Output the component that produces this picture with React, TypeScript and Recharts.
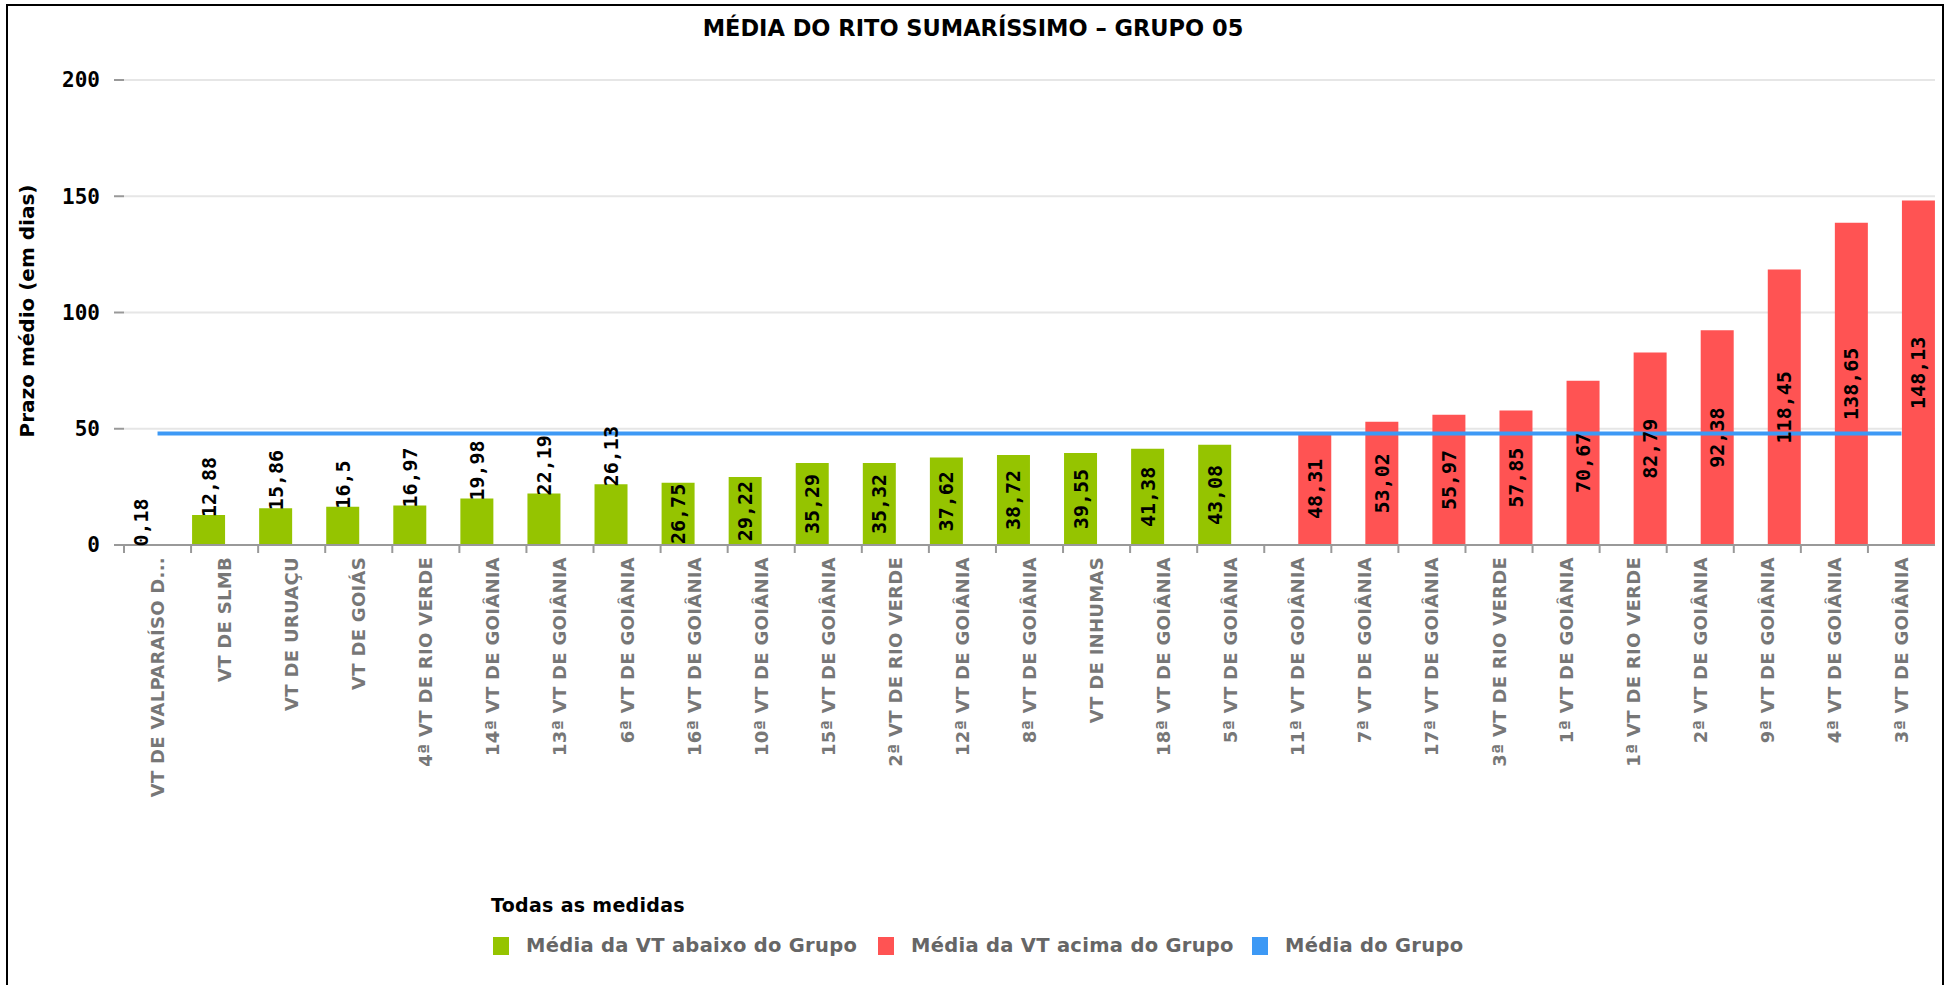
import { ComposedChart, Bar, Line, XAxis, YAxis, CartesianGrid, LabelList } from 'recharts';

const categories = [
  'VT DE VALPARAÍSO D...', 'VT DE SLMB', 'VT DE URUAÇU', 'VT DE GOIÁS', '4ª VT DE RIO VERDE',
  '14ª VT DE GOIÂNIA', '13ª VT DE GOIÂNIA', '6ª VT DE GOIÂNIA', '16ª VT DE GOIÂNIA', '10ª VT DE GOIÂNIA',
  '15ª VT DE GOIÂNIA', '2ª VT DE RIO VERDE', '12ª VT DE GOIÂNIA', '8ª VT DE GOIÂNIA', 'VT DE INHUMAS',
  '18ª VT DE GOIÂNIA', '5ª VT DE GOIÂNIA', '11ª VT DE GOIÂNIA', '7ª VT DE GOIÂNIA', '17ª VT DE GOIÂNIA',
  '3ª VT DE RIO VERDE', '1ª VT DE GOIÂNIA', '1ª VT DE RIO VERDE', '2ª VT DE GOIÂNIA', '9ª VT DE GOIÂNIA',
  '4ª VT DE GOIÂNIA', '3ª VT DE GOIÂNIA',
];

// below group average (first 17 courts)
const abaixo = [
  0.18, 12.88, 15.86, 16.5, 16.97, 19.98, 22.19, 26.13, 26.75, 29.22,
  35.29, 35.32, 37.62, 38.72, 39.55, 41.38, 43.08,
  null, null, null, null, null, null, null, null, null, null,
];

// above group average (last 10 courts)
const acima = [
  null, null, null, null, null, null, null, null, null, null,
  null, null, null, null, null, null, null,
  48.31, 53.02, 55.97, 57.85, 70.67, 82.79, 92.38, 118.45, 138.65, 148.13,
];

const mediaGrupo = 48;
const yTicks = [0, 50, 100, 150, 200];

const data = categories.map((name, i) => ({
  name,
  abaixo: abaixo[i],
  acima: acima[i],
  media: mediaGrupo,
}));

const W = 1946;
const H = 985;
const margin = { top: 80, right: 11, left: 64, bottom: 180 };
const Y_AXIS_W = 60;
const X_AXIS_H = 260;
const plotW = W - margin.left - margin.right - Y_AXIS_W;
const bandW = plotW / categories.length;

const GREEN = '#95c400';
const RED = '#ff5353';
const BLUE = '#3d99f5';

const BarLabel = (props: any) => {
  const { x, y, width, height, value } = props;
  if (value == null) return null;
  const cx = x + width / 2;
  const text = String(value).replace('.', ',');
  const inside = height > 61.5;
  const ty = inside ? y + height / 2 : y + 2;
  return (
    <text
      x={cx}
      y={ty}
      transform={`rotate(-90 ${cx} ${ty})`}
      textAnchor={inside ? 'middle' : 'start'}
      dominantBaseline="central"
      fill="#000"
      fontFamily="DejaVu Sans Mono"
      fontWeight="bold"
      fontSize={20}
    >
      {text}
    </text>
  );
};

const XTick = (props: any) => {
  const { x, y, payload } = props;
  const bx = x - bandW / 2;
  const ty = y + 12;
  return (
    <g>
      <line x1={bx} x2={bx} y1={y} y2={y + 8} stroke="#999" strokeWidth={2} />
      <text
        x={x}
        y={ty}
        transform={`rotate(-90 ${x} ${ty})`}
        textAnchor="end"
        dominantBaseline="central"
        fill="#777"
        fontFamily="DejaVu Sans"
        fontWeight="bold"
        fontSize={18}
        letterSpacing={0.3}
      >
        {payload.value}
      </text>
    </g>
  );
};

const legendItems = [
  { label: 'Média da VT abaixo do Grupo', color: GREEN, left: 493 },
  { label: 'Média da VT acima do Grupo', color: RED, left: 878 },
  { label: 'Média do Grupo', color: BLUE, left: 1252 },
];

export default function App() {
  return (
    <div style={{ position: 'fixed', left: 0, top: 0, width: W, height: H, overflow: 'hidden', background: '#fff' }}>
      <div
        style={{
          position: 'absolute', left: 6, top: 4, width: 1938, height: 1000,
          border: '2px solid #000', boxSizing: 'border-box',
        }}
      />
      <div
        style={{
          position: 'absolute', left: 0, top: 15, width: W, textAlign: 'center',
          fontFamily: 'DejaVu Sans', fontWeight: 'bold', fontSize: 22.5, color: '#000',
        }}
      >
        MÉDIA DO RITO SUMARÍSSIMO – GRUPO 05
      </div>
      <div
        style={{
          position: 'absolute', left: 27, top: 311, transform: 'translate(-50%, -50%) rotate(-90deg)',
          whiteSpace: 'nowrap', fontFamily: 'DejaVu Sans', fontWeight: 'bold', fontSize: 20, color: '#000',
        }}
      >
        Prazo médio (em dias)
      </div>
      <div style={{ position: 'absolute', left: 0, top: 0 }}>
        <ComposedChart width={W} height={H} data={data} margin={margin} barGap={0} barCategoryGap={1}>
          <CartesianGrid horizontal vertical={false} stroke="#e6e6e6" strokeWidth={2} />
          <XAxis
            dataKey="name"
            interval={0}
            height={X_AXIS_H}
            tickSize={0}
            tickMargin={0}
            tickLine={false}
            axisLine={{ stroke: '#999', strokeWidth: 2 }}
            tick={<XTick />}
          />
          <YAxis
            width={Y_AXIS_W}
            domain={[0, 200]}
            ticks={yTicks}
            axisLine={false}
            tickSize={10}
            tickMargin={14}
            tickLine={{ stroke: '#999', strokeWidth: 2 }}
            tick={{ fill: '#000', fontFamily: 'DejaVu Sans Mono', fontWeight: 'bold', fontSize: 21 }}
          />
          <Bar dataKey="abaixo" fill={GREEN} isAnimationActive={false}>
            <LabelList dataKey="abaixo" content={<BarLabel />} />
          </Bar>
          <Bar dataKey="acima" fill={RED} isAnimationActive={false}>
            <LabelList dataKey="acima" content={<BarLabel />} />
          </Bar>
          <Line dataKey="media" stroke={BLUE} strokeWidth={4} dot={false} activeDot={false} isAnimationActive={false} />
        </ComposedChart>
      </div>
      <div
        style={{
          position: 'absolute', left: 491, top: 894, fontFamily: 'DejaVu Sans',
          fontWeight: 'bold', fontSize: 19, color: '#000', letterSpacing: 0.3,
        }}
      >
        Todas as medidas
      </div>
      {legendItems.map((it) => (
        <div key={it.label} style={{ position: 'absolute', left: it.left, top: 934, display: 'flex', alignItems: 'center' }}>
          <div style={{ width: 16, height: 18, background: it.color, marginRight: 17 }} />
          <span style={{ fontFamily: 'DejaVu Sans', fontWeight: 'bold', fontSize: 19.5, color: '#666', letterSpacing: 0.3, whiteSpace: 'nowrap' }}>
            {it.label}
          </span>
        </div>
      ))}
    </div>
  );
}
